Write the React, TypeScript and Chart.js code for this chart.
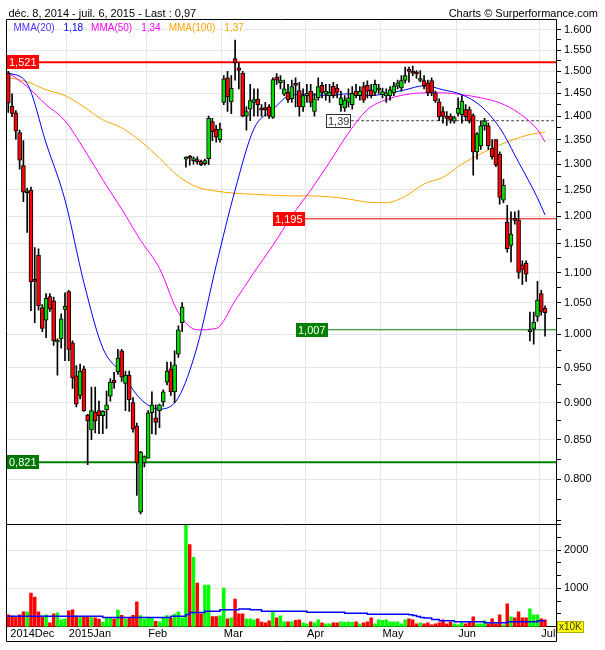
import React, { useEffect, useRef } from 'react';
import { Chart, registerables } from 'chart.js';

Chart.register(...registerables);

// ---------- DATA (one candle per trading day, Dec 8 2014 -> early Jul 2015) ----------
const opens = [1.496,1.421,1.407,1.365,1.297,1.244,1.249,1.088,1.130,1.042,
 1.022,1.060,1.053,0.988,0.993,1.039,1.068,0.987,0.938,0.910,
 0.948,0.883,0.863,0.887,0.889,0.882,0.890,0.909,0.932,0.944,
 0.975,0.927,0.939,0.900,0.868,0.760,0.820,0.826,0.886,0.879,
 0.889,0.901,0.929,0.948,0.915,0.970,1.018,1.310,1.316,1.307,
 1.309,1.305,1.301,1.311,1.388,1.372,1.350,1.430,1.485,1.431,
 1.530,1.508,1.496,1.400,1.415,1.430,1.437,1.417,1.418,1.420,
 1.397,1.487,1.474,1.448,1.452,1.438,1.470,1.456,1.420,1.445,
 1.455,1.410,1.440,1.468,1.448,1.445,1.466,1.462,1.425,1.418,
 1.430,1.425,1.455,1.445,1.465,1.468,1.458,1.452,1.457,1.447,
 1.444,1.444,1.451,1.466,1.462,1.479,1.502,1.500,1.496,1.479,
 1.479,1.473,1.479,1.451,1.431,1.410,1.400,1.400,1.389,1.406,
 1.403,1.414,1.414,1.401,1.325,1.337,1.379,1.379,1.332,1.350,
 1.320,1.230,1.189,1.147,1.195,1.193,1.113,1.116,1.004,1.008,
 1.028,1.065,1.041];
const highs = [1.500,1.449,1.412,1.370,1.348,1.253,1.255,1.143,1.141,1.047,
 1.065,1.065,1.059,0.993,1.032,1.066,1.070,0.990,0.953,0.955,
 0.952,0.884,0.922,0.922,0.902,0.889,0.916,0.934,0.943,0.977,
 0.977,0.945,0.945,0.907,0.872,0.835,0.829,0.889,0.915,0.897,
 0.898,0.918,0.958,0.958,0.975,1.013,1.050,1.315,1.318,1.315,
 1.315,1.308,1.310,1.400,1.395,1.380,1.385,1.490,1.500,1.490,
 1.574,1.520,1.500,1.420,1.470,1.460,1.460,1.425,1.430,1.425,
 1.485,1.495,1.490,1.480,1.470,1.480,1.485,1.475,1.460,1.470,
 1.470,1.450,1.485,1.475,1.470,1.470,1.475,1.470,1.455,1.445,
 1.460,1.465,1.470,1.465,1.475,1.478,1.470,1.480,1.470,1.462,
 1.460,1.465,1.475,1.480,1.490,1.510,1.510,1.512,1.502,1.502,
 1.490,1.480,1.485,1.455,1.438,1.420,1.410,1.405,1.400,1.440,
 1.445,1.425,1.420,1.405,1.365,1.390,1.395,1.385,1.350,1.350,
 1.325,1.270,1.220,1.208,1.208,1.210,1.120,1.120,1.035,1.035,
 1.085,1.070,1.045];
const lows = [1.408,1.399,1.351,1.290,1.227,1.170,1.037,1.018,1.038,1.004,
 0.995,1.036,0.983,0.939,0.979,0.960,0.960,0.920,0.894,0.905,
 0.888,0.818,0.850,0.859,0.858,0.858,0.865,0.902,0.920,0.940,
 0.930,0.889,0.888,0.860,0.780,0.758,0.815,0.826,0.858,0.857,
 0.866,0.895,0.925,0.910,0.900,0.965,1.004,1.294,1.298,1.300,
 1.300,1.297,1.298,1.299,1.348,1.345,1.345,1.425,1.410,1.405,
 1.480,1.460,1.398,1.370,1.390,1.400,1.400,1.400,1.400,1.395,
 1.395,1.470,1.460,1.445,1.430,1.430,1.420,1.400,1.410,1.430,
 1.420,1.400,1.435,1.440,1.435,1.430,1.440,1.440,1.410,1.410,
 1.420,1.415,1.440,1.435,1.430,1.440,1.440,1.445,1.450,1.440,
 1.430,1.435,1.445,1.460,1.455,1.473,1.475,1.490,1.484,1.476,
 1.460,1.445,1.445,1.430,1.390,1.385,1.380,1.385,1.385,1.400,
 1.385,1.390,1.385,1.278,1.310,1.330,1.370,1.330,1.310,1.295,
 1.222,1.225,1.135,1.118,1.185,1.090,1.080,1.085,0.990,0.985,
 1.020,1.030,0.997];
const closes = [1.428,1.406,1.368,1.308,1.245,1.247,1.084,1.085,1.045,1.009,
 1.057,1.040,0.990,0.991,1.024,1.044,0.977,0.935,0.898,0.945,
 0.889,0.875,0.889,0.875,0.882,0.888,0.897,0.929,0.928,0.964,
 0.936,0.939,0.904,0.864,0.820,0.834,0.828,0.886,0.897,0.873,
 0.897,0.915,0.945,0.915,0.954,1.007,1.043,1.313,1.312,1.311,
 1.305,1.299,1.307,1.395,1.367,1.355,1.372,1.483,1.442,1.461,
 1.520,1.502,1.400,1.410,1.434,1.436,1.425,1.413,1.414,1.400,
 1.481,1.480,1.480,1.460,1.436,1.465,1.468,1.420,1.445,1.450,
 1.430,1.438,1.465,1.452,1.455,1.452,1.445,1.452,1.440,1.435,
 1.440,1.450,1.445,1.455,1.435,1.455,1.445,1.470,1.462,1.454,
 1.451,1.458,1.467,1.473,1.479,1.490,1.500,1.496,1.494,1.482,
 1.467,1.451,1.452,1.433,1.398,1.400,1.395,1.392,1.397,1.417,
 1.433,1.399,1.389,1.325,1.362,1.379,1.390,1.337,1.315,1.298,
 1.235,1.258,1.141,1.167,1.192,1.100,1.105,1.097,1.006,1.019,
 1.054,1.036,1.034];
// volume in units of 10K
const volumes = [310,276,241,310,388,388,879,776,388,276,
 310,103,336,362,181,207,414,440,276,240,
 260,250,240,230,200,120,220,230,200,435,
 300,200,230,300,650,290,200,250,220,140,
 130,220,290,220,330,390,230,2672,2146,1810,
 1138,336,1086,1086,267,267,284,1009,207,233,
 724,336,336,207,207,181,207,121,103,155,
 397,233,284,129,129,129,164,181,103,78,
 129,103,181,103,78,78,103,103,129,112,
 129,112,129,78,103,129,233,78,181,164,
 181,129,129,129,78,181,207,181,78,103,
 78,103,52,78,103,181,78,129,78,52,
 103,78,129,259,78,78,155,78,207,78,
 310,52,595,259,233,388,233,233,465,310,
 310,207,181];

// moving averages at these day indices
const maIdx = [0,5,10,15,20,25,30,35,40,45,50,55,60,65,70,75,80,85,90,95,100,105,110,115,120,125,130,135,140,142];
const ma20 = [1.497,1.472,1.343,1.230,1.083,0.979,0.942,0.905,0.891,0.907,0.982,1.112,1.249,1.373,1.414,1.447,1.447,1.445,1.449,1.445,1.449,1.458,1.467,1.458,1.447,1.422,1.375,1.304,1.234,1.202];
const ma50 = [1.497,1.465,1.425,1.390,1.331,1.269,1.213,1.156,1.107,1.034,1.007,1.009,1.053,1.100,1.147,1.200,1.249,1.304,1.364,1.414,1.436,1.447,1.451,1.451,1.447,1.440,1.429,1.407,1.371,1.345];
const ma100 = [1.486,1.476,1.458,1.445,1.420,1.392,1.375,1.347,1.312,1.276,1.255,1.247,1.243,1.241,1.239,1.238,1.238,1.236,1.232,1.226,1.225,1.237,1.261,1.274,1.300,1.321,1.339,1.354,1.364,1.366];

// volume moving average (step line)
const volMaIdx = [0,25,43,47,48,52,56,61,64,67,79,89,95,106,107,108,109,110,112,114,118,126,132,140,142];
const volMaVal = [276,241,276,319,371,405,440,465,440,405,379,353,328,310,293,265,241,225,190,155,129,103,129,155,155];

// x axis month ticks (day index) and labels
const monthTickIdx = [0, 15.5, 36.5, 56.5, 78.5, 98.5, 118.5, 140.5];
const monthLabels = ['2014Dec', '2015Jan', 'Feb', 'Mar', 'Apr', 'May', 'Jun', 'Jul'];

// y axis ticks
const priceMajorTicks = [0.8,0.85,0.9,0.95,1.0,1.05,1.1,1.15,1.2,1.25,1.3,1.35,1.4,1.45,1.5,1.55,1.6];
const priceMinorTicks = [0.75,0.775,0.825,0.875,0.925,0.975,1.025,1.075,1.125,1.175,1.225,1.275,1.325,1.375,1.425,1.475,1.525,1.575];
const volumeMajorTicks = [1000, 2000];
const volumeMinorTicks = [333.33, 666.67, 1333.33, 1666.67, 2333.33, 2666.67];

// horizontal levels
const levelValues = [1.521, 1.39, 1.195, 1.007, 0.821];
const levelLabels = ['1,521', '1,39', '1,195', '1,007', '0,821'];
const levelStartIdx: (number | null)[] = [null, 90.7, 78.5, 84.6, null];

// legend / header text
const legendNames = ['MMA(20)', 'MMA(50)', 'MMA(100)'];
const legendValues = ['1,18', '1,34', '1,37'];
const headerLeft = 'déc. 8, 2014 - juil. 6, 2015 - Last : 0,97';
const headerRight = 'Charts © Surperformance.com';
const volumeUnit = 'x10K';

// ---------- STYLE ----------
const X_MIN = -0.34;
const X_MAX = 144.9;
const PRICE_MIN = 0.7458;
const PRICE_MAX = 1.6236;
const VOL_MAX = 2668;
const FONT = '"Liberation Sans", Arial, sans-serif';
const RED = '#ff0000';
const GREEN_CANDLE = '#00dd00';
const GREEN_VOL = '#00ff00';
const GRID = '#e6e6e6';
const maColors = ['#0000ff', '#ff00ff', '#ffa500'];
const legendNameColors = ['#4b2dff', '#ff00ff', '#ffa500'];
const levelColors = [RED, '#444444', RED, '#008000', '#008000'];
const levelWidths = [2, 1, 1, 1, 2];
const levelDashes = [[], [3, 2], [], [], []];
const levelBoxBg = [RED, '#ffffff', RED, '#008000', '#007700'];
const levelBoxFg = ['#ffffff', '#333333', '#ffffff', '#ffffff', '#ffffff'];
const levelBoxBorder = [null, '#333333', null, null, null];

function near(a: number, list: number[]) {
  return list.some((v) => Math.abs(v - a) < 1e-6);
}

export default function App() {
  const canvasRef = useRef<HTMLCanvasElement | null>(null);

  useEffect(() => {
    document.body.style.margin = '0';
    const canvas = canvasRef.current;
    if (!canvas) return;
    const idx = opens.map((_, i) => i);
    const up = idx.map((i) => closes[i] >= opens[i]);

    const overlay = {
      id: 'overlay',
      afterDraw(chart: any) {
        const ctx = chart.ctx as CanvasRenderingContext2D;
        const area = chart.chartArea;
        const xs = chart.scales.x;
        const ys = chart.scales.y;
        const yv = chart.scales.yv;
        ctx.save();

        // panel separator
        ctx.strokeStyle = '#000';
        ctx.lineWidth = 1;
        const sepY = Math.round(yv.top) - 0.5;
        ctx.beginPath();
        ctx.moveTo(area.left, sepY);
        ctx.lineTo(area.right, sepY);
        ctx.stroke();

        // outer frame
        const L = Math.round(area.left) - 0.5;
        const T = Math.round(area.top) - 0.5;
        const R = Math.round(area.right) + 0.5;
        const B = Math.round(xs.bottom) - 0.5;
        ctx.beginPath();
        ctx.moveTo(L, T);
        ctx.lineTo(R, T);
        ctx.lineTo(R, B);
        ctx.lineTo(L, B);
        ctx.closePath();
        ctx.stroke();

        // header
        ctx.fillStyle = '#000';
        ctx.font = '11px ' + FONT;
        ctx.textBaseline = 'alphabetic';
        ctx.textAlign = 'left';
        ctx.fillText(headerLeft, 8.5, 16.5);
        ctx.textAlign = 'right';
        ctx.fillText(headerRight, 598, 16.5);
        ctx.textAlign = 'left';

        // legend
        ctx.font = '10px ' + FONT;
        let lx = area.left + 6.5;
        for (let k = 0; k < legendNames.length; k++) {
          const nw = ctx.measureText(legendNames[k]).width;
          ctx.fillStyle = '#ffffff';
          ctx.fillRect(lx, 23, nw, 10);
          ctx.fillStyle = legendNameColors[k];
          ctx.fillText(legendNames[k], lx, 31);
          lx += nw + 9;
          const vw = ctx.measureText(legendValues[k]).width;
          ctx.fillStyle = '#ffffff';
          ctx.fillRect(lx, 23, vw, 10);
          ctx.fillStyle = maColors[k];
          ctx.fillText(legendValues[k], lx, 31);
          lx += vw + 8;
        }

        // level label boxes
        ctx.font = '11px ' + FONT;
        ctx.textBaseline = 'middle';
        levelValues.forEach((v, k) => {
          const y = ys.getPixelForValue(v);
          const w = Math.round(ctx.measureText(levelLabels[k]).width + 4);
          const h = 14;
          const start = levelStartIdx[k];
          const bx = start === null ? Math.round(area.left) : Math.round(xs.getPixelForValue(start)) - w;
          const by = Math.round(y - h / 2);
          ctx.fillStyle = levelBoxBg[k];
          ctx.fillRect(bx, by, w, h);
          const bc = levelBoxBorder[k];
          if (bc) {
            ctx.strokeStyle = bc;
            ctx.strokeRect(bx + 0.5, by + 0.5, w - 1, h - 1);
          }
          ctx.fillStyle = levelBoxFg[k];
          ctx.fillText(levelLabels[k], bx + 2, by + h / 2 + 0.5);
        });

        // volume unit box
        ctx.font = '10px ' + FONT;
        const uw = Math.round(ctx.measureText(volumeUnit).width + 4);
        const ux = Math.round(area.right) + 1;
        const uy = Math.round(area.bottom) - 6;
        ctx.fillStyle = '#ffff00';
        ctx.fillRect(ux, uy, uw, 12);
        ctx.strokeStyle = '#b0b000';
        ctx.strokeRect(ux + 0.5, uy + 0.5, uw - 1, 11);
        ctx.fillStyle = '#333';
        ctx.textBaseline = 'middle';
        ctx.fillText(volumeUnit, ux + 2, uy + 6.5);

        ctx.restore();
      },
    };

    const levelSets = levelValues.map((v, k) => ({
      type: 'line' as const,
      label: 'level' + k,
      yAxisID: 'y',
      data: [
        { x: levelStartIdx[k] === null ? X_MIN : (levelStartIdx[k] as number), y: v },
        { x: X_MAX, y: v },
      ],
      borderColor: levelColors[k],
      borderWidth: levelWidths[k],
      borderDash: levelDashes[k],
      pointRadius: 0,
      order: 20,
    }));

    const maSets = [ma20, ma50, ma100].map((arr, k) => ({
      type: 'line' as const,
      label: legendNames[k],
      yAxisID: 'y',
      data: maIdx.map((x, j) => ({ x, y: arr[j] })),
      borderColor: maColors[k],
      borderWidth: 1,
      pointRadius: 0,
      cubicInterpolationMode: 'monotone' as const,
      order: 15,
    }));

    const chart = new Chart(canvas, {
      type: 'bar',
      data: {
        datasets: [
          ...levelSets,
          ...maSets,
          {
            type: 'bar',
            label: 'volume',
            yAxisID: 'yv',
            data: idx.map((i) => ({ x: i, y: volumes[i] })),
            backgroundColor: idx.map((i) => (up[i] ? GREEN_VOL : RED)),
            barThickness: 2.8,
            grouped: false,
            borderWidth: 0,
            order: 12,
          } as any,
          {
            type: 'line',
            label: 'volMA',
            yAxisID: 'yv',
            data: volMaIdx.map((x, j) => ({ x, y: volMaVal[j] })),
            borderColor: '#0000ff',
            borderWidth: 1.5,
            pointRadius: 0,
            stepped: 'before',
            order: 11,
          } as any,
          {
            type: 'bar',
            label: 'wick',
            yAxisID: 'y',
            data: idx.map((i) => ({ x: i, y: [lows[i], highs[i]] })),
            backgroundColor: '#000',
            barThickness: 1,
            grouped: false,
            borderWidth: 0,
            order: 10,
          } as any,
          {
            type: 'bar',
            label: 'body',
            yAxisID: 'y',
            data: idx.map((i) => ({ x: i, y: [opens[i], closes[i]] })),
            backgroundColor: idx.map((i) => (up[i] ? GREEN_CANDLE : RED)),
            borderColor: '#000',
            borderWidth: 1,
            borderSkipped: false,
            barThickness: 4,
            minBarLength: 2,
            grouped: false,
            order: 9,
          } as any,
        ],
      },
      options: {
        responsive: false,
        animation: false,
        devicePixelRatio: 1,
        events: [],
        layout: { padding: { left: 7, top: 20, right: 7, bottom: 8.3 } },
        plugins: {
          legend: { display: false },
          tooltip: { enabled: false },
          title: { display: false },
        },
        scales: {
          x: {
            type: 'linear',
            position: 'bottom',
            min: X_MIN,
            max: X_MAX,
            offset: false,
            bounds: 'data',
            grid: {
              color: (c: any) => (c.index === 0 ? 'rgba(0,0,0,0)' : GRID),
              drawTicks: false,
              offset: false,
            },
            border: { display: true, color: '#000' },
            ticks: {
              autoSkip: false,
              maxRotation: 0,
              minRotation: 0,
              align: 'start',
              padding: 1,
              labelOffset: 2,
              color: '#000',
              font: { family: FONT, size: 11 },
              callback: (v: any) => {
                const k = monthTickIdx.findIndex((m) => Math.abs(m - v) < 1e-6);
                return k >= 0 ? monthLabels[k] : '';
              },
            },
            afterBuildTicks: (s: any) => {
              s.ticks = monthTickIdx.map((v) => ({ value: v }));
            },
            afterFit: (s: any) => {
              s.height = 15;
            },
          } as any,
          y: {
            type: 'logarithmic',
            position: 'right',
            stack: 'main',
            stackWeight: 504.5,
            weight: 0,
            min: PRICE_MIN,
            max: PRICE_MAX,
            bounds: 'data',
            grid: {
              color: (c: any) => (c.tick && near(c.tick.value, priceMajorTicks) ? GRID : 'rgba(0,0,0,0)'),
              tickColor: '#000',
              tickLength: 5,
            },
            border: { display: true, color: '#000' },
            ticks: {
              autoSkip: false,
              padding: 3,
              color: '#000',
              font: { family: FONT, size: 11 },
              callback: (v: any) => (near(Number(v), priceMajorTicks) ? Number(v).toFixed(3) : ''),
            },
            afterBuildTicks: (s: any) => {
              s.ticks = [...priceMajorTicks, ...priceMinorTicks].sort((a, b) => a - b).map((v) => ({ value: v }));
            },
            afterFit: (s: any) => {
              s.width = 42;
            },
          } as any,
          yv: {
            type: 'linear',
            position: 'right',
            stack: 'main',
            stackWeight: 102.2,
            weight: 1,
            min: 0,
            max: VOL_MAX,
            bounds: 'data',
            grid: {
              color: (c: any) => (c.tick && near(c.tick.value, volumeMajorTicks) ? GRID : 'rgba(0,0,0,0)'),
              tickColor: '#000',
              tickLength: 5,
            },
            border: { display: true, color: '#000' },
            ticks: {
              autoSkip: false,
              padding: 3,
              color: '#000',
              font: { family: FONT, size: 11 },
              callback: (v: any) => (near(Number(v), volumeMajorTicks) ? String(Math.round(Number(v))) : ''),
            },
            afterBuildTicks: (s: any) => {
              s.ticks = [...volumeMajorTicks, ...volumeMinorTicks].sort((a, b) => a - b).map((v) => ({ value: v }));
            },
            afterFit: (s: any) => {
              s.width = 42;
            },
          } as any,
        },
      },
      plugins: [overlay],
    } as any);

    return () => chart.destroy();
  }, []);

  return <canvas ref={canvasRef} width={605} height={650} style={{ display: 'block', width: '605px', height: '650px' }} />;
}
